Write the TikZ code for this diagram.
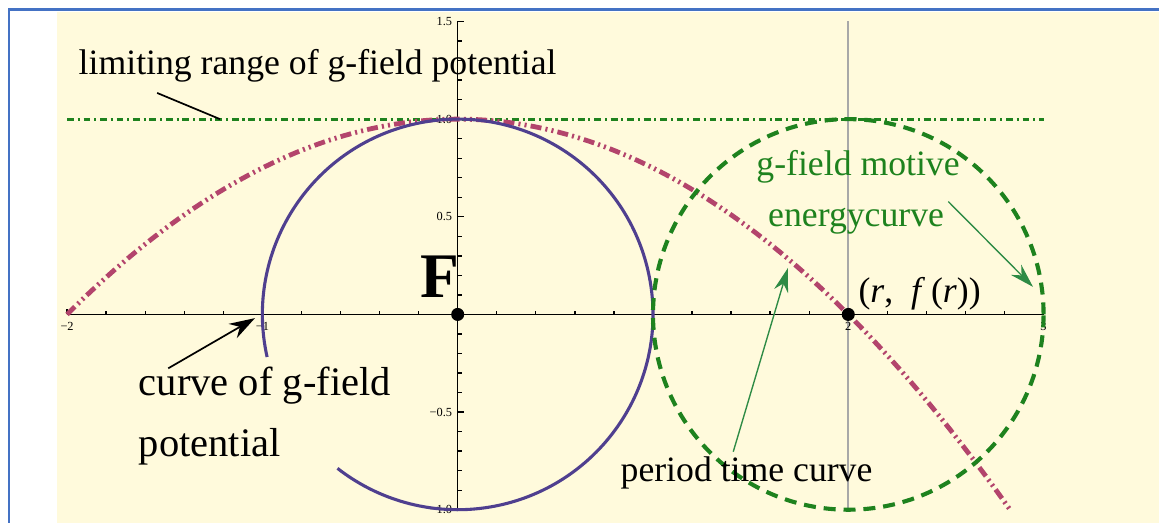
\documentclass[tikz,border=0pt]{standalone}
\usepackage{fontspec}
\setmainfont{Liberation Serif}
\usetikzlibrary{arrows.meta}
\definecolor{cream}{HTML}{FFFADC}
\definecolor{frameblue}{HTML}{4472C4}
\definecolor{potviolet}{HTML}{4F3F8F}
\definecolor{periodred}{HTML}{B3446C}
\definecolor{motgreen}{HTML}{1E821E}
\definecolor{arrgreen}{HTML}{2E8B45}
\definecolor{vgray}{HTML}{A8A8A8}
\tikzset{
  lbl/.style={inner sep=0pt,font=\fontsize{10.4}{12}\selectfont},
  ticklab/.style={inner sep=0pt,font=\fontsize{3.6}{4}\selectfont},
  dot/.style={circle,fill=black,inner sep=0pt,minimum size=3.8pt},
  garrow/.style={arrgreen,line width=0.4pt,-{Stealth[length=7pt,width=4.2pt]}}
}

\begin{document}
\begin{tikzpicture}[scale=2.0]
\useasboundingbox (-2.3436,-1.0676) rectangle (3.591,1.610);
\fill[cream] (-2.0508,-1.2) rectangle (3.7,1.549);
\draw[frameblue,line width=0.8pt] (-2.2975,-1.2) rectangle (3.7,1.5617);
% axes and ticks
\draw[vgray,line width=0.6pt] (2,-1)--(2,1.5);
\draw[line width=0.45pt] (-2,0)--(3,0);
\draw[line width=0.45pt] (0,-1)--(0,1.5);
\foreach \i in {-10,...,15} \draw[line width=0.4pt] (\i/5,0)--++(0,0.02);
\foreach \i in {-10,...,15} \draw[line width=0.4pt] (0,\i/10)--++(0.02,0);
\foreach \x in {-2,-1,1,2,3} \draw[line width=0.4pt] (\x,0)--++(0,0.03);
\foreach \y in {-1,-0.5,0.5,1,1.5} \draw[line width=0.4pt] (0,\y)--++(0.03,0);
\foreach \x/\t/\n in {-2/−2/a,-1/−1/b,1/1/c,2/2/d,3/3/e}
  \node[ticklab,anchor=north] (xlab\n) at (\x,-0.035) {\t};
\foreach \y/\t/\n in {-1/−1.0/a,-0.5/−0.5/b,0.5/0.5/c,1/1.0/d,1.5/1.5/e}
  \node[ticklab,anchor=east] (ylab\n) at (-0.025,\y) {\t};
% curves
\draw[motgreen,line width=0.9pt,dash pattern=on 2pt off 1.1pt on 0.6pt off 1.1pt] (-2,1)--(3,1);
\draw[periodred,line width=1.4pt,dash pattern=on 3.2pt off 1.2pt on 0.6pt off 1.2pt on 0.6pt off 1.2pt]
  plot[domain=-2:2.828,samples=120] (\x,{1-\x*\x/4});
\draw[potviolet,line width=0.9pt] (192.6:1) arc[start angle=192.6,end angle=-128,radius=1];
\draw[motgreen,line width=1.2pt,dash pattern=on 3.5pt off 2.3pt] (2,0) circle[radius=1];
\node[dot] (origin) at (0,0) {};
\node[dot] (rpoint) at (2,0) {};
% labels
\node[lbl,anchor=base west] (limit) at (-1.944,1.226) {limiting range of g-field potential};
\node[lbl,anchor=base west,font=\fontsize{11.8}{18}\selectfont,align=left] (curvelbl) at (-1.636,-0.7296) {curve of g-field\\potential};
\node[inner sep=0pt,anchor=base west,font=\fontsize{18.5}{20}\selectfont\bfseries] (Flbl) at (-0.193,0.0845) {F};
\node[lbl,anchor=base west] (rflbl) at (2.049,0.059) {(\textit{r},\ \ \textit{f}\,(\textit{r}))};
\node[lbl,motgreen,anchor=base] (motive) at (2.05,0.709) {g-field motive};
\node[lbl,motgreen,anchor=base] (energy) at (2.04,0.448) {energycurve};
\node[lbl,anchor=base west] (period) at (0.831,-0.858) {period time curve};
% pointers
\coordinate (limtail) at (-1.539,1.134);
\coordinate (limend) at (-1.217,1.0);
\coordinate (curvetail) at (-1.482,-0.276);
\coordinate (curvetip) at (-1.038,-0.019);
\coordinate (periodtail) at (1.411,-0.703);
\coordinate (periodtip) at (1.691,0.238);
\coordinate (energytail) at (2.512,0.578);
\coordinate (energytip) at (2.946,0.141);
\draw[line width=0.5pt] (limtail)--(limend);
\draw[line width=0.5pt,-{Stealth[length=7.5pt,width=4.8pt]}] (curvetail)--(curvetip);
\draw[garrow] (periodtail)--(periodtip);
\draw[garrow] (energytail)--(energytip);
\end{tikzpicture}
\end{document}
